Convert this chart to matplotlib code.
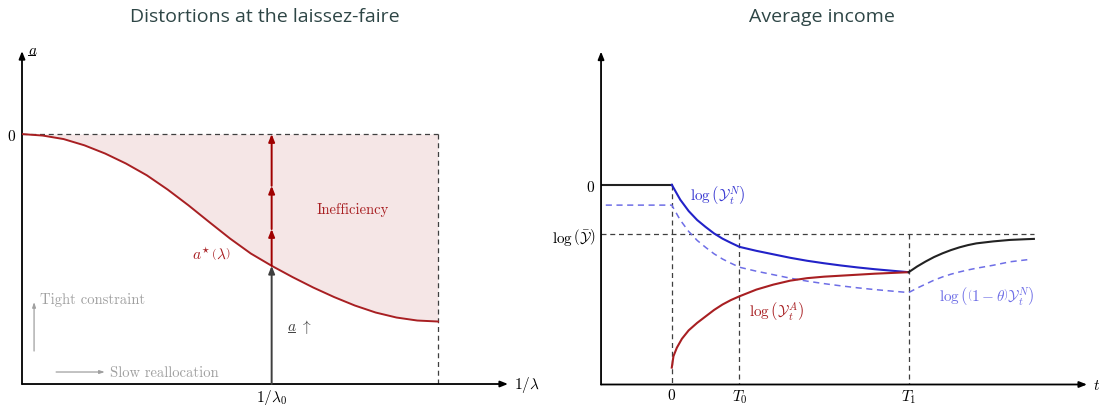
import numpy as np
import matplotlib.pyplot as plt
import matplotlib.transforms as mtransforms

plt.rcParams['mathtext.fontset'] = 'cm'

# ---- left panel: optimal a*(lambda) against 1/lambda ----
inv_lambda = [0.00, 0.05, 0.10, 0.15, 0.20, 0.25, 0.30, 0.35, 0.40, 0.45, 0.50,
              0.55, 0.60, 0.65, 0.70, 0.75, 0.80, 0.85, 0.90, 0.95, 1.00]
a_star = [0.000, -0.006, -0.020, -0.045, -0.078, -0.118, -0.165, -0.222, -0.285, -0.352, -0.418,
          -0.478, -0.527, -0.572, -0.614, -0.652, -0.686, -0.714, -0.734, -0.746, -0.750]
inv_lambda0 = 0.60
a_bottom = -1.0
red_arrow_heads = [-0.38, -0.207, 0.0]

# ---- right panel: average income over time ----
T0, T1 = 2.0, 7.0
log_ybar = -1.0
t_pre = [-2.09, 0.0]
log_y_pre = [0.0, 0.0]
t_mid = [0.0, 0.25, 0.5, 0.75, 1.0, 1.25, 1.5, 1.75, 2.0,
         2.5, 3.0, 3.5, 4.0, 4.5, 5.0, 5.5, 6.0, 6.5, 7.0]
log_yn = [0.0, -0.30, -0.53, -0.71, -0.85, -0.98, -1.085, -1.17, -1.25,
          -1.33, -1.40, -1.47, -1.53, -1.58, -1.625, -1.665, -1.70, -1.73, -1.76]
log_ya_t = [0.0, 0.05, 0.15, 0.3, 0.5, 0.75, 1.0, 1.25, 1.5, 1.75, 2.0,
            2.5, 3.0, 3.5, 4.0, 4.5, 5.0, 5.5, 6.0, 6.5, 7.0]
log_ya = [-3.68, -3.45, -3.28, -3.10, -2.93, -2.78, -2.65, -2.52, -2.41, -2.32, -2.245,
          -2.11, -2.01, -1.93, -1.88, -1.85, -1.83, -1.81, -1.79, -1.775, -1.76]
t_post = [7.0, 7.25, 7.5, 7.75, 8.0, 8.25, 8.5, 8.75, 9.0, 9.5, 10.0, 10.5, 10.7]
log_y_post = [-1.76, -1.645, -1.545, -1.455, -1.38, -1.315, -1.26, -1.215, -1.18,
              -1.14, -1.11, -1.095, -1.09]
t_theta = [-1.95, 0.0, 0.25, 0.5, 0.75, 1.0, 1.25, 1.5, 1.75, 2.0,
           2.5, 3.0, 3.5, 4.0, 4.5, 5.0, 5.5, 6.0, 6.5, 7.0,
           7.25, 7.5, 7.75, 8.0, 8.25, 8.5, 8.75, 9.0, 9.5, 10.0, 10.55]
log_theta_yn = [-0.41, -0.41, -0.71, -0.94, -1.12, -1.26, -1.39, -1.495, -1.58, -1.66,
                -1.74, -1.81, -1.88, -1.94, -1.99, -2.035, -2.075, -2.11, -2.14, -2.17,
                -2.08, -2.00, -1.92, -1.855, -1.80, -1.755, -1.715, -1.68, -1.62, -1.55, -1.505]

RED = '#a81f22'
ARROW_RED = '#a00000'
DARK = '#3f3f3f'
GREY = '#a0a0a0'
BLUE = '#2222c8'
LIGHT_BLUE = '#6e6ee6'
TITLE = '#2e4646'
dash = dict(color=DARK, lw=0.9, dashes=(4, 3))

fig = plt.figure(figsize=(11, 4.06), dpi=100)


def draw_axes_arrows(ax):
    for s in ax.spines.values():
        s.set_visible(False)
    head = dict(arrowstyle='-|>,head_length=0.45,head_width=0.18', lw=1.3, color='black',
                shrinkA=0, shrinkB=0)
    ax.annotate('', xy=(1, 0), xytext=(0, 0), xycoords='axes fraction', arrowprops=head,
                annotation_clip=False)
    ax.annotate('', xy=(0, 1), xytext=(0, 0), xycoords='axes fraction', arrowprops=head,
                annotation_clip=False)
    ax.tick_params(length=0, labelsize=11)
    ax.tick_params(axis='x', pad=2)
    ax.tick_params(axis='y', pad=4)


def underlined_a(ax, x, y, transform, color='black', suffix=''):
    # mathtext has no \underline, so draw the bar under the "a" by hand
    ax.text(x, y, r'$a' + suffix + '$', transform=transform, color=color, fontsize=11,
            ha='left', va='center')
    anchor = fig.dpi_scale_trans + mtransforms.ScaledTranslation(x, y, transform)
    ax.plot([0.005, 0.075], [-0.055, -0.055], transform=anchor, color=color, lw=0.7,
            clip_on=False)


# left
ax1 = fig.add_axes([0.02, 0.0517, 0.4418, 0.82])
ax1.set_xlim(0, 1.168)
ax1.set_ylim(a_bottom, 0.332)
draw_axes_arrows(ax1)

ax1.fill_between(inv_lambda, a_star, 0, color=RED, alpha=0.11, lw=0)
ax1.plot(inv_lambda, a_star, color=RED, lw=1.4, zorder=3)
ax1.plot([0, inv_lambda[-1]], [0, 0], **dash)
ax1.plot([inv_lambda[-1], inv_lambda[-1]], [0, a_bottom], **dash)

a0 = a_star[inv_lambda.index(inv_lambda0)]
ax1.annotate('', xy=(inv_lambda0, a0), xytext=(inv_lambda0, a_bottom),
             arrowprops=dict(arrowstyle='-|>,head_length=0.45,head_width=0.18', lw=1.4,
                             color=DARK, shrinkA=0, shrinkB=0))
start = a0
for y in red_arrow_heads:
    ax1.annotate('', xy=(inv_lambda0, y), xytext=(inv_lambda0, start),
                 arrowprops=dict(arrowstyle='-|>,head_length=0.45,head_width=0.18', lw=1.4,
                                 color=ARROW_RED, shrinkA=0, shrinkB=0))
    start = y

ax1.set_xticks([inv_lambda0])
ax1.set_xticklabels([r'$1/\lambda_0$'])
ax1.set_yticks([0])
ax1.set_yticklabels([r'$0$'])
ax1.text(1.012, 0, r'$1/\lambda$', transform=ax1.transAxes, ha='left', va='center', fontsize=11)
underlined_a(ax1, 0.012, 1.005, ax1.transAxes)

ax1.text(0.796, -0.30, 'Inefficiency', family='cmr10', color=RED, fontsize=10.5,
         ha='center', va='center')
ax1.text(0.454, -0.476, r'$a^{\star}\,\left(\lambda\right)$', color=RED, fontsize=11,
         ha='center', va='center')
underlined_a(ax1, 0.637, -0.768, ax1.transData, color=DARK, suffix=r'\ \uparrow')

grey_arrow = dict(arrowstyle='-|>,head_length=0.3,head_width=0.1', lw=0.9, color=GREY,
                  shrinkA=0, shrinkB=0)
ax1.annotate('', xy=(0.029, -0.672), xytext=(0.029, -0.868), arrowprops=grey_arrow)
ax1.text(0.043, -0.66, 'Tight constraint', family='cmr10', color=GREY, fontsize=10.5,
         ha='left', va='center')
ax1.annotate('', xy=(0.199, -0.952), xytext=(0.082, -0.952), arrowprops=grey_arrow)
ax1.text(0.212, -0.952, 'Slow reallocation', family='cmr10', color=GREY, fontsize=10.5,
         ha='left', va='center')

# right
ax2 = fig.add_axes([0.5464, 0.0505, 0.4418, 0.82])
ax2.set_xlim(-2.09, 12.27)
ax2.set_ylim(-4.02, 2.68)
draw_axes_arrows(ax2)

ax2.plot([t_pre[0], t_post[-1]], [log_ybar, log_ybar], **dash)
ax2.plot([0, 0], [0, -4.02], **dash)
ax2.plot([T0, T0], [log_ybar, -4.02], **dash)
ax2.plot([T1, T1], [log_ybar, -4.02], **dash)

ax2.plot(t_theta, log_theta_yn, color=LIGHT_BLUE, lw=1.1, dashes=(4, 3))
ax2.plot(t_pre, log_y_pre, color='#222222', lw=1.5)
ax2.plot(t_mid, log_yn, color=BLUE, lw=1.5)
ax2.plot(log_ya_t, log_ya, color=RED, lw=1.5)
ax2.plot(t_post, log_y_post, color='#222222', lw=1.5)

ax2.set_xticks([0, T0, T1])
ax2.set_xticklabels([r'$0$', r'$T_0$', r'$T_1$'])
ax2.set_yticks([0, log_ybar])
ax2.set_yticklabels([r'$0$', r'$\log\left(\bar{\mathcal{Y}}\right)$'])
ax2.text(1.012, 0, r'$t$', transform=ax2.transAxes, ha='left', va='center', fontsize=11)

ax2.text(0.53, -0.195, r'$\log\left(\mathcal{Y}_t^N\right)$', color='#3a3ad2', fontsize=11,
         ha='left', va='center')
ax2.text(3.09, -2.52, r'$\log\left(\mathcal{Y}_t^A\right)$', color=RED, fontsize=11,
         ha='center', va='center')
ax2.text(9.3, -2.21, r'$\log\left(\left(1-\theta\right)\mathcal{Y}_t^N\right)$',
         color=LIGHT_BLUE, fontsize=11, ha='center', va='center')

fig.text(265 / 1100, 1 - 17 / 406, 'Distortions at the laissez-faire', family='Open Sans',
         fontsize=14, color=TITLE, ha='center', va='center')
fig.text(822 / 1100, 1 - 17 / 406, 'Average income', family='Open Sans',
         fontsize=14, color=TITLE, ha='center', va='center')

fig.savefig('out.png', dpi=100)
